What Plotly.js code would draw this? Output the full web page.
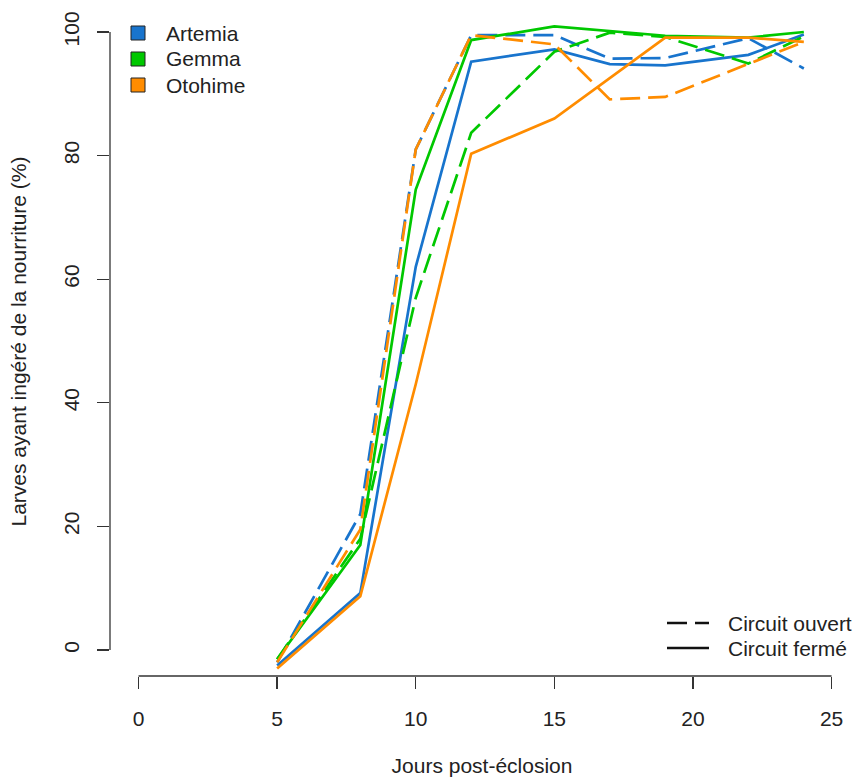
<!DOCTYPE html>
<html><head><meta charset="utf-8">
<script src="https://cdn.plot.ly/plotly-3.0.1.min.js"></script>
<style>html,body{margin:0;padding:0;background:#fff}</style>
</head><body><div id="chart" style="width:854px;height:779px"></div>
<script>
// ---- data ----
const days = [5, 8, 10, 12, 15, 17, 19, 22, 24];
const artemiaOuvert = [-2, 22, 81, 99.5, 99.5, 95.7, 95.8, 99, 94.1];
const artemiaFerme  = [-2.5, 9.2, 62, 95.2, 97.2, 94.8, 94.6, 96.3, 99.6];
const gemmaOuvert   = [-1.5, 18, 57, 83.7, 96.8, 99.9, 99.2, 94.9, 99.3];
const gemmaFerme    = [-1.5, 17, 74.5, 98.7, 100.9, 100.2, 99.4, 99.1, 100];
const otohimeOuvert = [-2, 19.5, 81, 99.5, 98, 89.1, 89.5, 94.9, 98.4];
const otohimeFerme  = [-3, 8.7, 43, 80.3, 86, 92.5, 99.1, 99.1, 98.4];
const foods = ["Artemia", "Gemma", "Otohime"];
const circuits = ["Circuit ouvert", "Circuit fermé"];
const xTicks = [0, 5, 10, 15, 20, 25];
const yTicks = [0, 20, 40, 60, 80, 100];
const xTitle = "Jours post-éclosion";
const yTitle = "Larves ayant ingéré de la nourriture (%)";

// ---- styles ----
const colors = {Artemia: "#1874CD", Gemma: "#00C800", Otohime: "#FF8C00"};
const DASH = "20px,8px";
const LW = 2.7;
const FONT = "Liberation Sans, Arial, sans-serif";
const FS = 21;
const W = 854, H = 779, L = 110, R = 0, T = 7, B = 103;
const PW = W - L - R, PH = H - T - B;
const px2x = p => (p - L) / PW;
const px2y = p => (H - B - p) / PH;

const series = [
  {food: "Artemia", open: artemiaOuvert, closed: artemiaFerme},
  {food: "Gemma", open: gemmaOuvert, closed: gemmaFerme},
  {food: "Otohime", open: otohimeOuvert, closed: otohimeFerme}
];
const traces = [];
series.forEach(s => {
  traces.push({x: days, y: s.open, type: "scatter", mode: "lines", name: s.food + " - " + circuits[0],
    line: {color: colors[s.food], width: LW, dash: DASH}, showlegend: false, hoverinfo: "x+y+name"});
  traces.push({x: days, y: s.closed, type: "scatter", mode: "lines", name: s.food + " - " + circuits[1],
    line: {color: colors[s.food], width: LW}, showlegend: false, hoverinfo: "x+y+name"});
});

const shapes = [
  // axis lines spanning only the tick range (R style)
  {type: "line", xref: "x", yref: "paper", x0: xTicks[0], x1: xTicks[xTicks.length-1], y0: 0, y1: 0,
   line: {color: "#333", width: 1.3}},
  {type: "line", xref: "paper", yref: "y", x0: 0, x1: 0, y0: yTicks[0], y1: yTicks[yTicks.length-1],
   line: {color: "#333", width: 1.3}}
];
const annotations = [];
const legY = [33, 59, 85];
foods.forEach((f, i) => {
  shapes.push({type: "rect", xref: "paper", yref: "paper",
    x0: px2x(131), x1: px2x(145), y0: px2y(legY[i] + 7), y1: px2y(legY[i] - 7),
    fillcolor: colors[f], line: {color: "#222", width: 1}});
  annotations.push({xref: "paper", yref: "paper", x: px2x(164), y: px2y(legY[i]), text: f,
    showarrow: false, xanchor: "left", yanchor: "middle", font: {size: FS, color: "#222", family: FONT}});
});
const leg2Y = [623, 648];
circuits.forEach((c, i) => {
  shapes.push({type: "line", xref: "paper", yref: "paper", x0: px2x(667), x1: px2x(709),
    y0: px2y(leg2Y[i]), y1: px2y(leg2Y[i]), line: {color: "#111", width: LW, dash: i === 0 ? DASH : "solid"}});
  annotations.push({xref: "paper", yref: "paper", x: px2x(726), y: px2y(leg2Y[i]), text: c,
    showarrow: false, xanchor: "left", yanchor: "middle", font: {size: FS, color: "#222", family: FONT}});
});

const layout = {
  width: W, height: H,
  margin: {l: L, r: R, t: T, b: B, pad: 0},
  paper_bgcolor: "#fff", plot_bgcolor: "#fff",
  font: {family: FONT, size: FS, color: "#222"},
  showlegend: false,
  xaxis: {
    range: [-1.03, 25.81], tickvals: xTicks, ticktext: xTicks.map(String),
    showgrid: false, zeroline: false, showline: false,
    ticks: "outside", ticklen: 12, tickwidth: 1.3, tickcolor: "#333",
    ticklabelstandoff: 12, tickfont: {size: FS, family: FONT, color: "#222"},
    title: {text: xTitle, font: {size: FS, family: FONT, color: "#222"}, standoff: 29},
    automargin: false, fixedrange: true
  },
  yaxis: {
    range: [-4.21, 104.05], tickvals: yTicks, ticktext: yTicks.map(String), tickangle: -90,
    showgrid: false, zeroline: false, showline: false,
    ticks: "outside", ticklen: 12, tickwidth: 1.3, tickcolor: "#333",
    ticklabelstandoff: 10, tickfont: {size: FS, family: FONT, color: "#222"},
    title: {text: yTitle, font: {size: FS, family: FONT, color: "#222"}, standoff: 27},
    automargin: false, fixedrange: true
  },
  shapes: shapes,
  annotations: annotations
};
Plotly.newPlot("chart", traces, layout, {displayModeBar: false, staticPlot: true});
</script></body></html>
